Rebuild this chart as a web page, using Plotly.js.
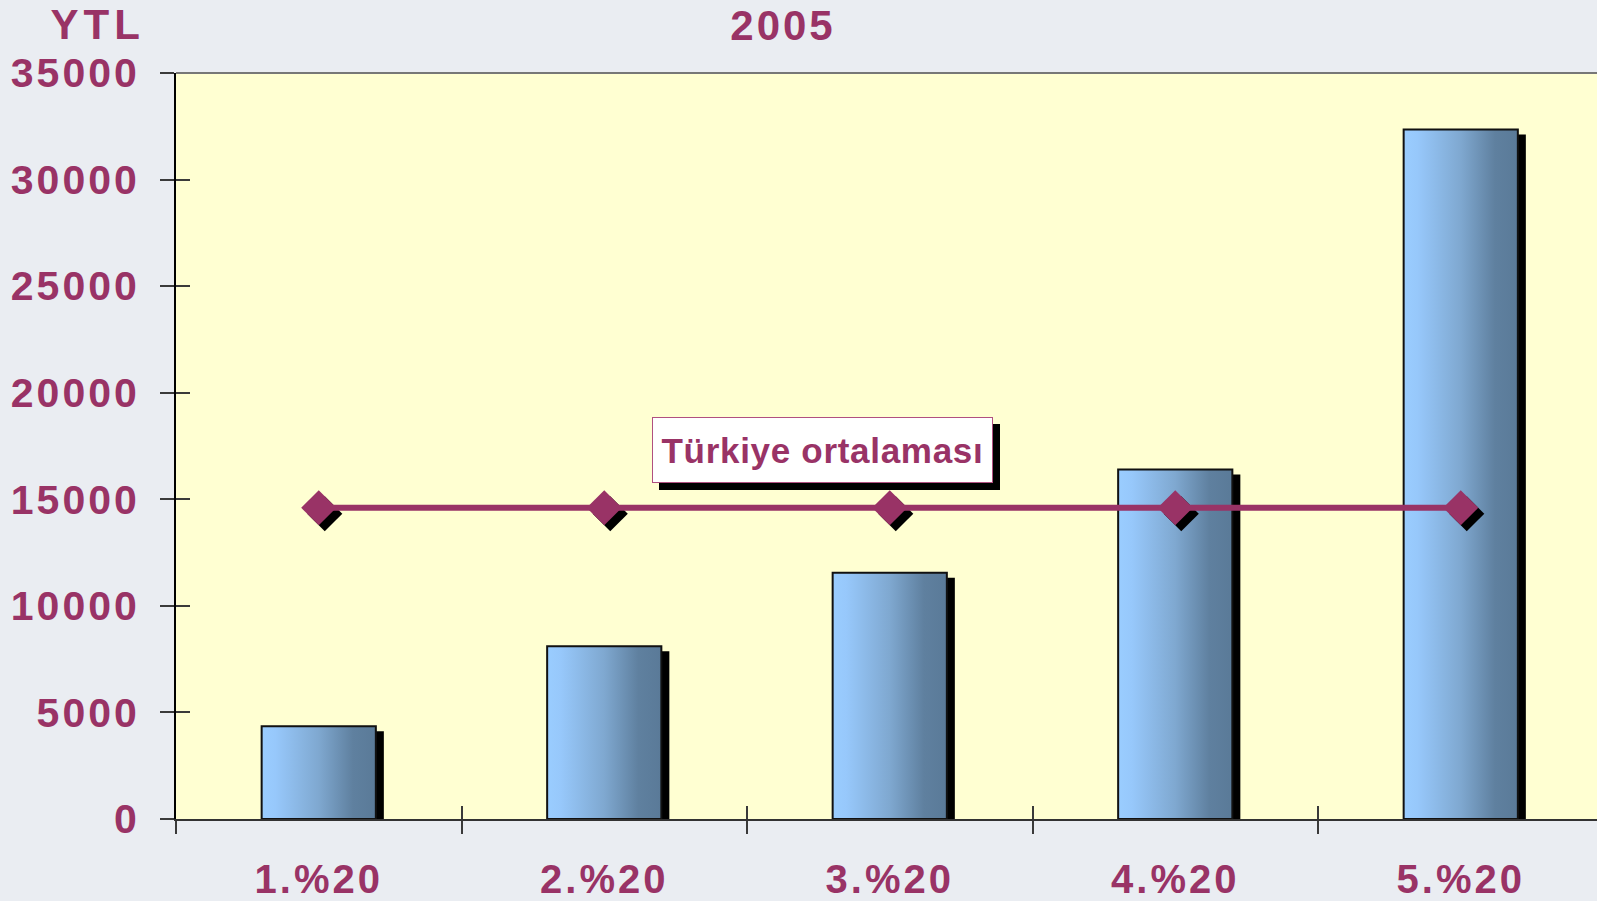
<!DOCTYPE html>
<html><head><meta charset="utf-8">
<script src="https://cdn.plot.ly/plotly-3.0.1.min.js"></script>
<style>
html,body{margin:0;padding:0;background:#EAEDF2;}
#chart{width:1597px;height:901px;}
.main-svg text{letter-spacing:3px;}
.annotation[data-index="0"] text{letter-spacing:0.7px;}
.annotation[data-index="1"] text{letter-spacing:5px;}
</style></head><body><div id="chart"></div><script>
// ---- data ----
const categories = ['1.%20', '2.%20', '3.%20', '4.%20', '5.%20'];
const incomeValues = [4350, 8100, 11550, 16400, 32350];
const averageValues = [14600, 14600, 14600, 14600, 14600];
const averageLabel = 'Türkiye ortalaması';
const yTickValues = [0, 5000, 10000, 15000, 20000, 25000, 30000, 35000];
const yTickLabels = ['0', '5000', '10000', '15000', '20000', '25000', '30000', '35000'];
const chartTitle = '2005';
const unitLabel = 'YTL';

// ---- style / geometry ----
const W = 1597, H = 901;
const M = {l: 176, r: 0, t: 73, b: 82};
const plotW = W - M.l - M.r, plotH = H - M.t - M.b;
const xRange = [-0.5, -0.5 + plotW / 285.5];
const yRange = [0, 35000];
const xPerPx = (xRange[1] - xRange[0]) / plotW;
const yPerPx = (yRange[1] - yRange[0]) / plotH;
const barHalf = 0.2;
const shadowDx = 8 * xPerPx, shadowDy = 5 * yPerPx;
const markDx = 6 * xPerPx, markDy = 6 * yPerPx;
const TXT = '#993366';
const FONT = 'Liberation Sans, Arial, sans-serif';
const gradient = [[0, '#9ACDFF'], [0.12, '#97C8FB'], [0.5, '#7FA8D0'], [0.8, '#5F809F'], [1, '#5A7A98']];

const idx = categories.map((c, i) => i);
const traces = [];
idx.forEach(i => {
  const v = incomeValues[i];
  traces.push({
    type: 'scatter', mode: 'lines', fill: 'toself', hoverinfo: 'skip', showlegend: false,
    x: [i - barHalf + shadowDx, i - barHalf + shadowDx, i + barHalf + shadowDx, i + barHalf + shadowDx, i - barHalf + shadowDx],
    y: [0, v - shadowDy, v - shadowDy, 0, 0],
    fillcolor: '#000000', line: {color: '#000000', width: 0}
  });
});
idx.forEach(i => {
  const v = incomeValues[i];
  traces.push({
    type: 'scatter', mode: 'lines', fill: 'toself', showlegend: false, name: categories[i],
    x: [i - barHalf, i - barHalf, i + barHalf, i + barHalf, i - barHalf],
    y: [0, v, v, 0, 0],
    fillgradient: {type: 'horizontal', colorscale: gradient},
    line: {color: '#111111', width: 2}
  });
});
traces.push({
  type: 'scatter', mode: 'markers', showlegend: false, hoverinfo: 'skip',
  x: idx.map(i => i + markDx), y: averageValues.map(v => v - markDy),
  marker: {symbol: 'diamond', size: 27, color: '#000000'}
});
traces.push({
  type: 'scatter', mode: 'lines+markers', showlegend: false, name: averageLabel,
  x: idx, y: averageValues,
  line: {color: '#993366', width: 6},
  marker: {symbol: 'diamond', size: 27, color: '#993366'}
});
traces.push({type: 'scatter', x: [], y: [], xaxis: 'x2', yaxis: 'y2', showlegend: false});

// annotation box geometry (pixels)
const box = {cx: 822.5, cy: 450, w: 341, h: 66, sdx: 7, sdy: 7};
const px2paperX = p => (p - M.l) / plotW;
const px2paperY = p => (H - M.b - p) / plotH;

const tickCol = '#3a3a3a';
const layout = {
  width: W, height: H, margin: M,
  paper_bgcolor: '#EAEDF2', plot_bgcolor: '#FFFFD2',
  showlegend: false,
  font: {family: FONT, color: TXT, weight: 700},
  title: {text: chartTitle, font: {size: 42, color: TXT, family: FONT, weight: 700},
    x: 783 / W, xanchor: 'center', xref: 'container', y: 1 - 25 / H, yanchor: 'middle', yref: 'container'},
  xaxis: {
    range: xRange, tickmode: 'array', tickvals: idx, ticktext: categories,
    ticks: '', showline: true, linecolor: '#333333', linewidth: 2,
    showgrid: false, zeroline: false, ticklabelstandoff: 24,
    tickfont: {size: 40, color: TXT, family: FONT, weight: 700},
    minor: {tickmode: 'array', tickvals: [-0.5, 0.5, 1.5, 2.5, 3.5], ticks: 'outside', ticklen: 13, tickwidth: 2, tickcolor: tickCol, showgrid: false}
  },
  xaxis2: {
    overlaying: 'x', anchor: 'y', range: xRange, tickmode: 'array', tickvals: [-0.5, 0.5, 1.5, 2.5, 3.5],
    ticks: 'inside', ticklen: 13, tickwidth: 2, tickcolor: tickCol, showticklabels: false,
    showline: false, showgrid: false, zeroline: false
  },
  yaxis: {
    range: yRange, tickmode: 'array', tickvals: yTickValues, ticktext: yTickLabels,
    ticks: 'outside', ticklen: 14, tickwidth: 2, tickcolor: tickCol, ticklabelstandoff: 12,
    showline: true, linecolor: '#000000', linewidth: 2, showgrid: false, zeroline: false,
    tickfont: {size: 41, color: TXT, family: FONT, weight: 700}
  },
  yaxis2: {
    overlaying: 'y', anchor: 'x', side: 'left', range: yRange, tickmode: 'array', tickvals: yTickValues,
    ticks: 'inside', ticklen: 14, tickwidth: 2, tickcolor: tickCol, showticklabels: false,
    showline: false, showgrid: false, zeroline: false
  },
  shapes: [
    {type: 'line', xref: 'paper', yref: 'paper', x0: 0, x1: 1, y0: 1, y1: 1, line: {color: '#777777', width: 2}},
    {type: 'rect', xref: 'paper', yref: 'paper', layer: 'above',
      x0: px2paperX(box.cx - box.w / 2 + box.sdx), x1: px2paperX(box.cx + box.w / 2 + box.sdx),
      y0: px2paperY(box.cy + box.h / 2 + box.sdy), y1: px2paperY(box.cy - box.h / 2 + box.sdy),
      fillcolor: '#000000', line: {width: 0}}
  ],
  annotations: [
    {text: averageLabel, xref: 'paper', yref: 'paper', x: px2paperX(box.cx), y: px2paperY(box.cy),
      xanchor: 'center', yanchor: 'middle', showarrow: false,
      width: box.w - 2, height: box.h - 2, borderpad: 0, borderwidth: 1, bordercolor: '#B05080', bgcolor: '#FFFFFF',
      font: {size: 35, color: TXT, family: FONT, weight: 700}},
    {text: unitLabel, xref: 'paper', yref: 'paper', x: px2paperX(139), y: px2paperY(25),
      xanchor: 'right', yanchor: 'middle', showarrow: false,
      font: {size: 42, color: TXT, family: FONT, weight: 700}}
  ]
};

Plotly.newPlot('chart', traces, layout, {staticPlot: true, displayModeBar: false});
</script></body></html>
